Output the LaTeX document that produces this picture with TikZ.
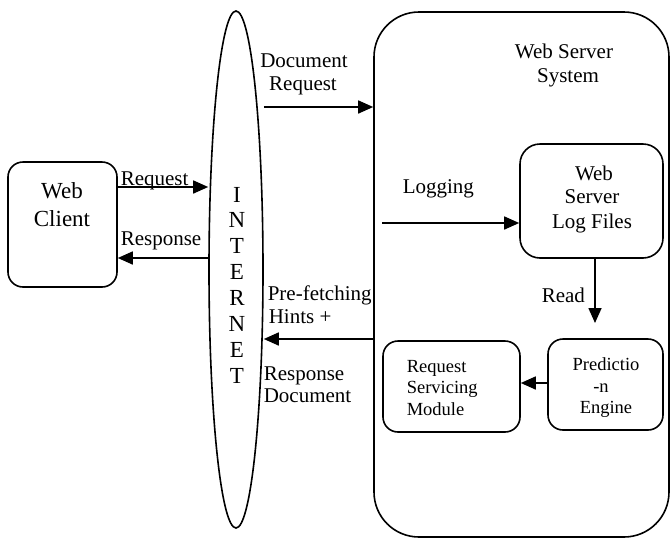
\documentclass[tikz,border=0pt]{standalone}
\usepackage{fontspec}
\setmainfont{Liberation Serif}
\usetikzlibrary{arrows.meta,shapes.geometric}
\begin{document}
\begin{tikzpicture}[x=1pt,y=-1pt,line width=1.6pt,
  rbox/.style={draw,rounded corners=#1,inner sep=0pt},
  arr/.style={-{Triangle[length=15pt,width=13pt]}},
  fA/.style={inner sep=0pt,font=\fontsize{23}{26}\selectfont},
  fB/.style={inner sep=0pt,font=\fontsize{21}{24}\selectfont},
  fC/.style={inner sep=0pt,font=\fontsize{18.5}{21}\selectfont}]
\useasboundingbox (0,0) rectangle (670,539);
% shapes
\node[rbox=15pt,minimum width=109pt,minimum height=125pt] (client) at (62.5,224.5) {};
\node[draw,ellipse,inner sep=0pt,minimum width=54pt,minimum height=517pt] (inet) at (236,269.5) {};
\node[rbox=45pt,minimum width=295pt,minimum height=525pt] (server) at (521.5,274.5) {};
\node[rbox=20pt,minimum width=143pt,minimum height=114pt] (log) at (591.5,201) {};
\node[rbox=15pt,minimum width=115pt,minimum height=91pt] (pred) at (605.5,384.5) {};
\node[rbox=15pt,minimum width=137pt,minimum height=91pt] (rsm) at (451.5,386.5) {};
% texts
\node[fA,anchor=base] (c1) at (62,198) {Web};
\node[fA,anchor=base] (c2) at (62,226) {Client};
\node[fB,anchor=base west] (lreq) at (120,185) {Request};
\node[fB,anchor=base west] (lresp) at (120,245) {Response};
\node[fB,anchor=base] (d1) at (304,67) {Document};
\node[fB,anchor=base] (d2) at (303,90) {Request};
\node[fB,anchor=base] (s1) at (564,58) {Web Server};
\node[fB,anchor=base] (s2) at (568,82) {System};
\node[fB,anchor=base west] (llog) at (402,193) {Logging};
\node[fB,anchor=base] (g1) at (594,180) {Web};
\node[fB,anchor=base] (g2) at (592,203) {Server};
\node[fB,anchor=base] (g3) at (592,228) {Log Files};
\node[fB,anchor=base west] (lread) at (541,302) {Read};
\node[fC,anchor=base] (p1) at (606,370) {Predictio};
\node[fC,anchor=base] (p2) at (601,392) {-n};
\node[fC,anchor=base] (p3) at (606,413) {Engine};
\node[fC,anchor=base west] (r1) at (406,372) {Request};
\node[fC,anchor=base west] (r2) at (406,393) {Servicing};
\node[fC,anchor=base west] (r3) at (406,415) {Module};
\node[fB,anchor=base west] (h1) at (267,300) {Pre-fetching};
\node[fB,anchor=base west] (h2) at (268,323) {Hints +};
\node[fB,anchor=base west] (e1) at (263,380) {Response};
\node[fB,anchor=base west] (e2) at (263,402) {Document};
\foreach \ch [count=\i from 0] in {I,N,T,E,R,N,E,T}
  \node[fA,anchor=base] (in\i) at (237,202+25.9*\i) {\ch};
% connectors
\coordinate (logstart) at (382,223);
\coordinate (readend) at (595,323);
\draw[arr] (client.east |- 0,187) -- (inet.west |- 0,187);
\draw[arr] (inet.west |- 0,258) -- (client.east |- 0,258);
\draw[arr] (inet.east |- 0,107) -- (server.west |- 0,107);
\draw[arr] (logstart) -- (log.west |- logstart);
\draw[arr] (log.south -| readend) -- (readend);
\draw[arr] (server.west |- 0,339) -- (inet.east |- 0,339);
\draw[arr] (pred.west |- 0,383) -- (rsm.east |- 0,383);
\end{tikzpicture}
\end{document}
